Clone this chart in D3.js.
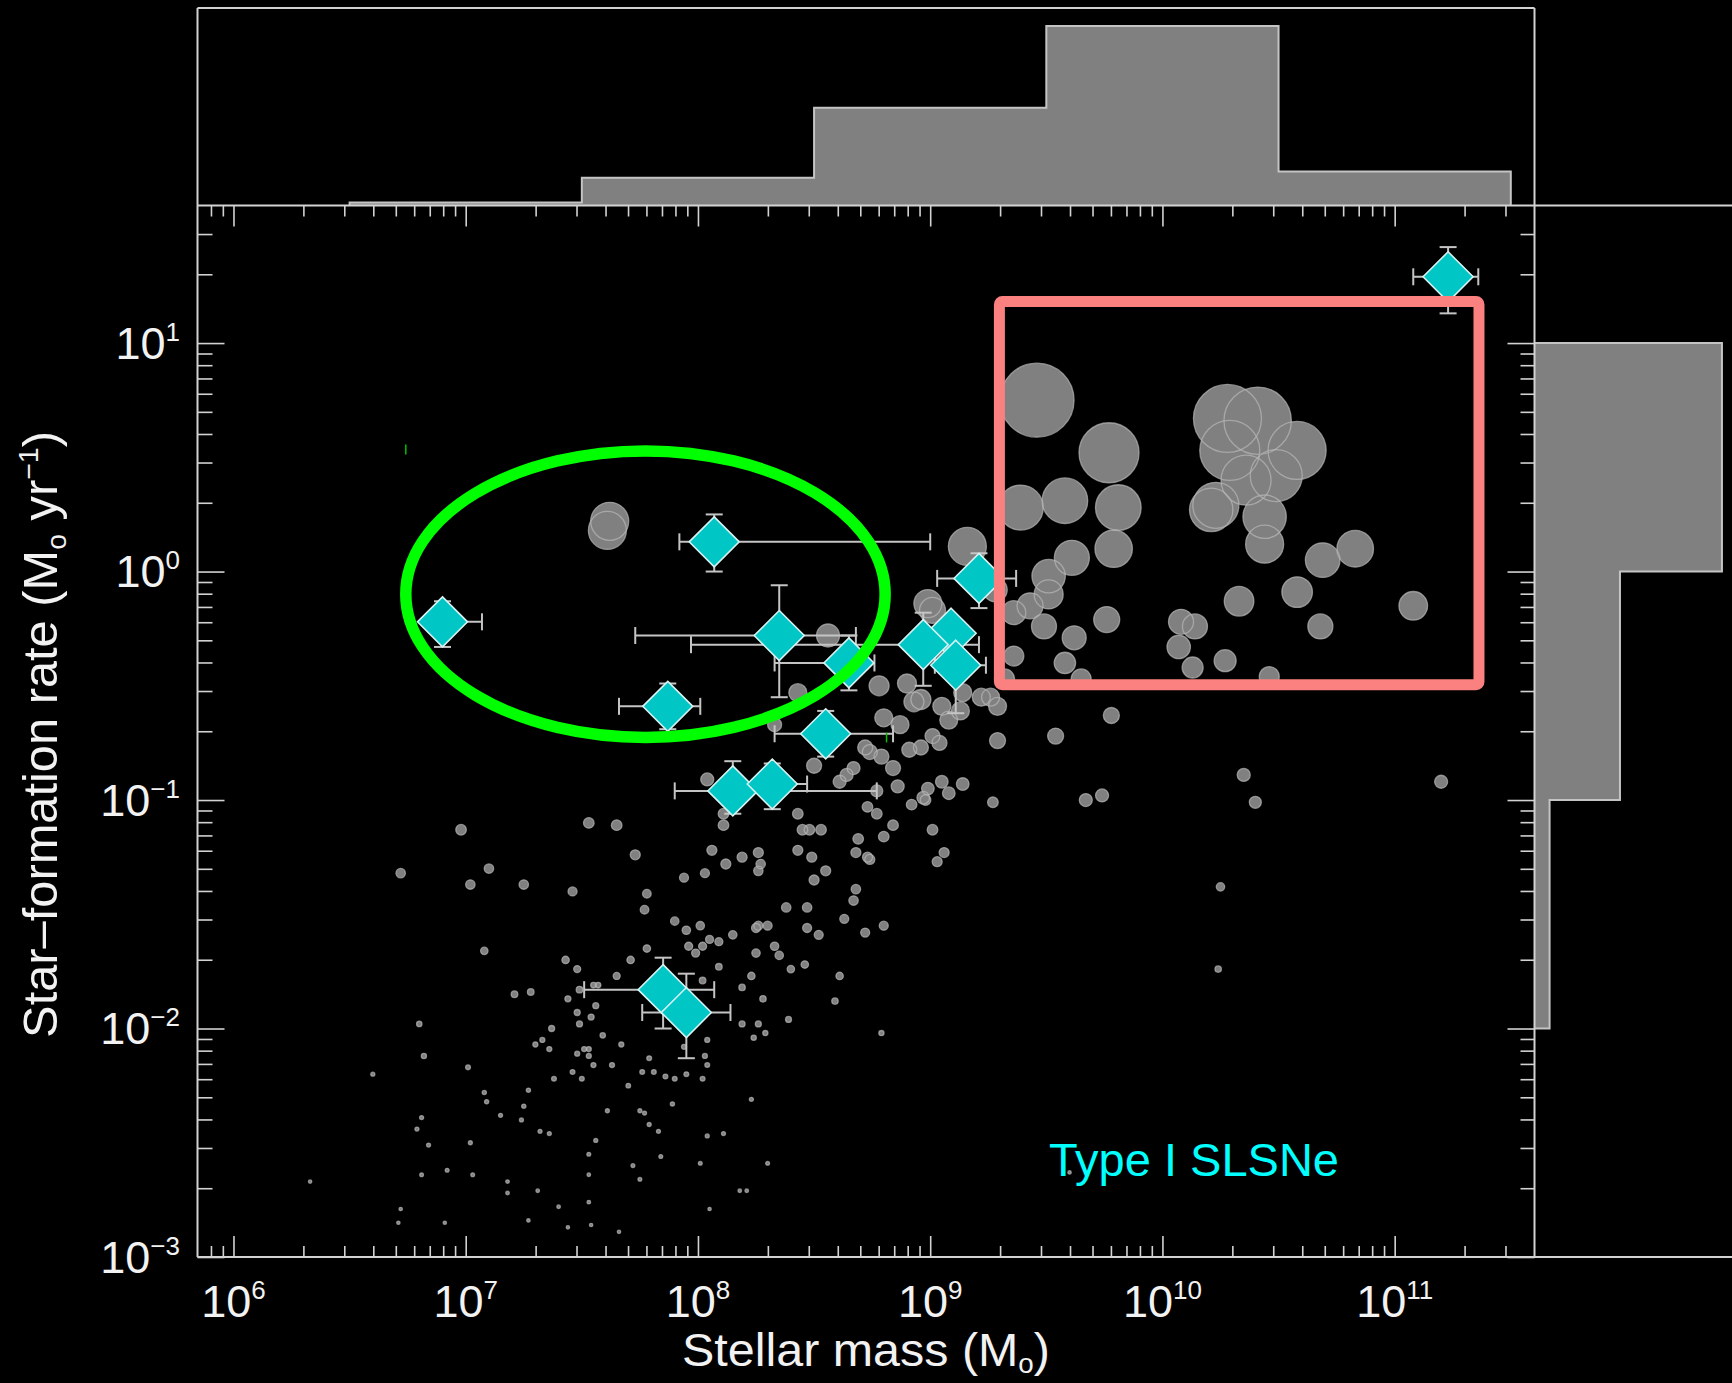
<!DOCTYPE html>
<html><head><meta charset="utf-8">
<script src="https://cdn.jsdelivr.net/npm/d3@7/dist/d3.min.js"></script>
<style>html,body{margin:0;padding:0;background:#000;}svg{display:block;}</style>
</head><body>
<svg id="chart" width="1732" height="1383"></svg>
<script>
// ---------------- DATA ----------------
const massTicks = [1e6, 1e7, 1e8, 1e9, 1e10, 1e11];
const massTickExp = ["6", "7", "8", "9", "10", "11"];
const sfrTicks = [1e-3, 1e-2, 1e-1, 1, 10];
const sfrTickExp = ["\u22123", "\u22122", "\u22121", "0", "1"];

// Top histogram: stellar mass (log10 bin edges) and relative heights
const massHistEdges = [6.5, 7.5, 8.5, 9.5, 10.5, 11.5];
const massHistValues = [0.017, 0.155, 0.545, 1.0, 0.19];
// Right histogram: SFR (log10 bin edges) and relative widths
const sfrHistEdges = [-2, -1, 0, 1];
const sfrHistValues = [0.084, 0.476, 1.044];

// Comparison galaxies: [log10 M*, log10 SFR, marker size]
const hostGalaxies = [
[6.98,-1.13,5.3],[7.53,-1.10,5.3],[7.65,-1.11,5.3],[7.73,-1.24,5],[8.06,-1.22,5],
[6.72,-1.32,4.7],[7.10,-1.30,4.7],[7.02,-1.37,4.7],[7.25,-1.37,4.7],[7.46,-1.40,4.5],
[7.94,-1.34,4.5],[8.03,-1.32,4.5],[7.78,-1.41,4.3],[7.77,-1.48,4.3],[7.90,-1.53,4.2],
[7.95,-1.57,4.2],[8.01,-1.55,4.2],[7.96,-1.64,4],[8.02,-1.64,4],[7.99,-1.67,4],
[8.05,-1.61,4],[8.09,-1.62,4],[7.08,-1.66,3.7],[7.78,-1.65,3.7],[7.71,-1.70,3.7],
[7.43,-1.70,3.7],[7.48,-1.74,3.5],[7.65,-1.77,3.5],[8.02,-1.79,3.3],[8.09,-1.73,3.3],
[7.21,-1.85,3.3],[7.28,-1.84,3.3],[7.49,-1.83,3.3],[7.55,-1.81,2.8],[7.57,-1.81,2.8],
[7.44,-1.87,3],[7.56,-1.90,3],[7.48,-1.93,3],[7.54,-1.95,3],[7.49,-1.98,3],
[7.37,-2.00,3],[7.59,-2.03,2.7],[6.80,-1.98,2.7],[6.82,-2.12,2.6],[7.30,-2.07,2.5],
[7.33,-2.05,2.5],[7.36,-2.09,2.5],[7.48,-2.11,2.5],[7.51,-2.09,2.5],[7.53,-2.09,2.5],
[7.53,-2.12,2.5],[7.55,-2.16,2.5],[7.63,-2.16,2.5],[7.67,-2.07,2.5],[7.01,-2.17,2.4],
[7.46,-2.19,2.4],[7.50,-2.22,2.4],[7.38,-2.22,2.4],[7.70,-2.25,2.3],[7.79,-2.13,2.4],
[7.94,-2.08,2.5],[8.04,-2.05,2.5],[8.03,-2.12,2.5],[8.04,-2.16,2.4],[7.76,-2.19,2.4],
[7.81,-2.19,2.4],[7.86,-2.21,2.4],[7.90,-2.22,2.4],[7.95,-2.20,2.4],[8.02,-2.22,2.4],
[7.08,-2.28,2.1],[7.09,-2.32,2.1],[7.27,-2.27,2.1],[7.25,-2.34,2.1],[7.15,-2.38,2],
[7.24,-2.40,2],[7.89,-2.33,2.1],[7.61,-2.36,2],[7.75,-2.36,2],[7.77,-2.37,2],
[7.79,-2.42,2],[7.83,-2.45,2],[8.04,-2.47,2],[6.81,-2.39,2],[6.79,-2.44,2],
[6.84,-2.51,2],[7.02,-2.50,2],[7.32,-2.45,2],[7.36,-2.46,2],[7.56,-2.49,2],
[7.53,-2.55,1.9],[7.84,-2.56,1.9],[8.01,-2.59,1.9],[7.72,-2.60,1.9],[7.75,-2.66,1.9],
[6.81,-2.64,1.9],[6.92,-2.62,1.9],[7.03,-2.64,1.9],[7.18,-2.67,1.8],[7.18,-2.72,1.8],
[7.31,-2.71,1.8],[7.53,-2.64,1.8],[7.40,-2.78,1.8],[7.53,-2.76,1.8],[6.72,-2.79,1.7],
[6.71,-2.85,1.7],[6.91,-2.85,1.7],[7.27,-2.84,1.7],[7.44,-2.87,1.7],[7.54,-2.86,1.7],
[7.66,-2.89,1.7],[8.05,-2.79,1.7],[6.33,-2.67,1.7],[6.60,-2.20,2],[8.04,-0.91,6.5],
[9.60,-2.63,1.7],
[8.43,-1.06,5.3],[8.11,-1.11,5.3],[8.11,-1.06,5.3],[8.45,-1.13,5.3],[8.48,-1.13,5.3],
[8.53,-1.13,5.3],[8.73,-1.03,5.3],[8.77,-1.06,5.3],[8.92,-1.02,5.3],[8.98,-1.00,5.3],
[9.27,-1.01,5.3],[8.84,-1.11,5.3],[9.01,-1.13,5.3],[8.69,-1.17,5.3],[8.80,-1.16,5.3],
[8.19,-1.25,5],[8.26,-1.23,5],[8.27,-1.28,4.7],[8.26,-1.31,4.7],[8.12,-1.28,5],
[8.43,-1.22,5],[8.49,-1.25,5],[8.68,-1.23,5],[8.73,-1.25,5],[8.74,-1.26,5],
[9.06,-1.23,5],[9.03,-1.27,5],[8.55,-1.31,5],[8.50,-1.35,5],[8.68,-1.39,4.7],
[8.67,-1.44,4.7],[8.38,-1.47,4.7],[8.47,-1.47,4.7],[8.63,-1.52,4.5],[8.80,-1.55,4.5],
[8.72,-1.58,4.5],[8.47,-1.56,4.5],[8.52,-1.59,4.5],[8.25,-1.56,4.5],[8.26,-1.55,4.5],
[8.30,-1.55,4.5],[8.15,-1.59,4.2],[8.33,-1.64,4.2],[8.35,-1.68,4.2],[8.25,-1.67,4.2],
[8.23,-1.77,3.7],[8.40,-1.74,3.7],[8.46,-1.72,3.7],[8.61,-1.77,3.7],[8.19,-1.82,3.2],
[8.28,-1.87,3.2],[8.59,-1.88,3.2],[8.39,-1.96,3],[8.19,-1.98,3],[8.26,-1.98,3],
[8.29,-2.02,2.6],[8.24,-2.04,2.6],[8.79,-2.02,2.6],[8.23,-2.31,2],[8.11,-2.46,2],
[8.30,-2.59,1.9],[8.18,-2.71,1.8],[8.21,-2.71,1.8],
[9.16,0.11,19],[8.99,-0.14,14],[9.01,-0.17,13],[8.56,-0.28,11.5],[8.43,-0.53,9],
[8.78,-0.50,10],[8.90,-0.49,9.5],[8.93,-0.57,10],[8.96,-0.56,10],[9.05,-0.59,9],
[9.08,-0.65,9],[9.13,-0.61,9],[9.14,-0.53,9],[9.22,-0.55,9],[9.26,-0.55,9],
[9.29,-0.59,9],[8.80,-0.64,9],[8.87,-0.67,9],[9.29,-0.74,8],[8.72,-0.77,7.5],
[8.74,-0.79,7.5],[8.79,-0.81,7.5],[8.84,-0.86,7.5],[8.91,-0.78,7.5],[8.96,-0.77,7.5],
[9.01,-0.72,7.5],[9.04,-0.75,7.5],[8.50,-0.85,7.5],[8.67,-0.86,6.5],[8.64,-0.89,6.5],
[8.61,-0.92,6.5],[8.86,-0.94,6.5],[8.99,-0.95,6.3],[8.97,-0.99,6.3],[9.05,-0.92,6.3],
[9.08,-0.97,6.3],[9.14,-0.93,6.3],[8.77,-0.96,6],[8.33,-0.67,7],
[9.46,0.75,37],[9.77,0.52,30],[9.39,0.28,22.5],[9.58,0.31,22.8],[9.81,0.28,22.8],
[9.61,0.06,17.5],[9.79,0.10,18.7],[9.51,-0.02,16.7],[9.51,-0.10,14.5],[9.43,-0.15,13],
[9.36,-0.18,12],[9.49,-0.24,12.5],[9.62,-0.29,12],[9.76,-0.21,13],[9.36,-0.37,10],
[9.58,-0.40,10.7],[9.65,-0.47,10],[9.32,-0.47,10],[10.28,0.67,34],[10.41,0.66,33.7],
[10.29,0.53,30],[10.58,0.53,29],[10.36,0.40,25],[10.49,0.42,26],[10.23,0.29,23],
[10.21,0.27,21.7],[10.44,0.24,21.7],[10.44,0.12,19],[10.69,0.05,17.3],[10.83,0.10,18.3],
[10.58,-0.09,15.3],[10.33,-0.13,14.8],[11.08,-0.15,14.3],[10.68,-0.24,12.5],[10.08,-0.22,12.5],
[10.14,-0.24,12.5],[10.07,-0.33,11.7],[10.13,-0.42,10.5],[10.27,-0.39,11],[10.46,-0.46,10],
[9.28,-0.08,12],
[9.54,-0.72,8],[9.78,-0.63,8],[9.67,-1.00,6.5],[9.74,-0.98,6.5],[10.35,-0.89,6.5],
[10.40,-1.01,6],[11.20,-0.92,6.5],[10.25,-1.38,4.2],[10.24,-1.74,3.2],
[7.62,0.22,19],[7.61,0.18,19]
];

// Type I SLSN hosts (log10 values) with error ranges
const slsnLogM     = [11.23, 6.90, 8.07, 9.21, 8.35, 7.87, 9.09, 8.97, 8.65, 9.11, 8.55, 8.15, 8.32, 7.85, 7.95];
const slsnLogMLo   = [11.08, 6.86, 7.92, 9.03, 7.73, 7.66, 9.02, 7.97, 8.33, 9.02, 8.33, 7.90, 8.26, 7.51, 7.76];
const slsnLogMHi   = [11.36, 7.07, 9.00, 9.37, 8.68, 8.01, 9.16, 9.21, 8.76, 9.24, 8.84, 8.77, 8.47, 8.07, 8.14];
const slsnLogSFR   = [1.29, -0.22, 0.13, -0.03, -0.28, -0.59, -0.27, -0.32, -0.40, -0.41, -0.71, -0.96, -0.93, -1.83, -1.93];
const slsnLogSFRLo = [1.13, -0.33, 0.00, -0.16, -0.55, -0.69, -0.34, -0.50, -0.52, -0.62, -0.81, -1.06, -1.04, -2.00, -2.13];
const slsnLogSFRHi = [1.42, -0.13, 0.25, 0.08, -0.06, -0.49, -0.20, -0.18, -0.28, -0.22, -0.61, -0.83, -0.84, -1.69, -1.76];

// Annotations in data coordinates (log10 units)
const ellipseCenter = [7.774, -0.099];
const ellipseHalfAxes = [1.032, 0.627];
const boxLogM = [9.298, 11.363];
const boxLogSFR = [-0.495, 1.182];
const greenMarks = [[6.742, 0.556, 0.512], [8.812, -0.705, -0.748]];

// ---------------- DRAW ----------------
const svg = d3.select("#chart");
const W = 1732, H = 1383;
svg.append("rect").attr("width", W).attr("height", H).attr("fill", "#000");

const L = 197.5, R = 1534.5, T = 205.5, B = 1257, HT = 8;
const x = d3.scaleLog().domain([7e5, 4e11]).range([L, R]);
const y = d3.scaleLog().domain([1e-3, 40]).range([B, T]);
const hTop = d3.scaleLinear().domain([0, 1.1]).range([T, HT]);
const hRight = d3.scaleLinear().domain([0, 1.1]).range([R, W]);
const rScale = d3.scaleLinear().domain([0, 40]).range([0, 40]);
const P = v => Math.pow(10, v);

const axisCol = "#d2d2d2";
const font = "'Liberation Sans', Arial, Helvetica, sans-serif";

// Histograms (single step outline, filled)
const gH = svg.append("g");
let pts = [];
massHistValues.forEach((v, i) => { pts.push([x(P(massHistEdges[i])), hTop(v)]); pts.push([x(P(massHistEdges[i+1])), hTop(v)]); });
const topPath = [[x(P(massHistEdges[0])), hTop(0)], ...pts, [x(P(massHistEdges[massHistEdges.length-1])), hTop(0)]];
gH.append("path").attr("d", d3.line()(topPath) + "Z").attr("fill", "#808080").attr("stroke", "none");
gH.append("path").attr("d", d3.line()(topPath)).attr("fill", "none").attr("stroke", "#c4c4c4").attr("stroke-width", 2);

pts = [];
sfrHistValues.forEach((v, i) => { pts.push([hRight(v), y(P(sfrHistEdges[i]))]); pts.push([hRight(v), y(P(sfrHistEdges[i+1]))]); });
const rightPath = [[hRight(0), y(P(sfrHistEdges[0]))], ...pts, [hRight(0), y(P(sfrHistEdges[sfrHistEdges.length-1]))]];
gH.append("path").attr("d", d3.line()(rightPath) + "Z").attr("fill", "#808080").attr("stroke", "none");
gH.append("path").attr("d", d3.line()(rightPath)).attr("fill", "none").attr("stroke", "#c4c4c4").attr("stroke-width", 2);

// Ticks via d3 axes
const minorX = [], minorY = [];
for (let e = 5; e <= 11; e++) for (let m = 2; m <= 9; m++) { const v = m * Math.pow(10, e); if (v > 7e5 && v < 4e11) minorX.push(v); }
for (let e = -3; e <= 1; e++) for (let m = 2; m <= 9; m++) { const v = m * Math.pow(10, e); if (v > 1e-3 && v < 40) minorY.push(v); }

function styleAxis(g) { g.select(".domain").remove(); g.selectAll("line").attr("stroke", axisCol).attr("stroke-width", 1.6); g.selectAll("text").remove(); }
svg.append("g").attr("transform", `translate(0,${B})`).call(d3.axisBottom(x).tickValues(massTicks).tickSize(-21).tickFormat("")).call(styleAxis);
svg.append("g").attr("transform", `translate(0,${B})`).call(d3.axisBottom(x).tickValues(minorX).tickSize(-11).tickFormat("")).call(styleAxis);
svg.append("g").attr("transform", `translate(0,${T})`).call(d3.axisTop(x).tickValues(massTicks).tickSize(-21).tickFormat("")).call(styleAxis);
svg.append("g").attr("transform", `translate(0,${T})`).call(d3.axisTop(x).tickValues(minorX).tickSize(-11).tickFormat("")).call(styleAxis);
svg.append("g").attr("transform", `translate(${L},0)`).call(d3.axisLeft(y).tickValues(sfrTicks).tickSize(-27).tickFormat("")).call(styleAxis);
svg.append("g").attr("transform", `translate(${L},0)`).call(d3.axisLeft(y).tickValues(minorY).tickSize(-15).tickFormat("")).call(styleAxis);
svg.append("g").attr("transform", `translate(${R},0)`).call(d3.axisRight(y).tickValues(sfrTicks).tickSize(-27).tickFormat("")).call(styleAxis);
svg.append("g").attr("transform", `translate(${R},0)`).call(d3.axisRight(y).tickValues(minorY).tickSize(-14).tickFormat("")).call(styleAxis);

// Frame lines
const fr = svg.append("g").attr("stroke", axisCol).attr("stroke-width", 2);
fr.append("line").attr("x1", L).attr("x2", R).attr("y1", HT).attr("y2", HT);
fr.append("line").attr("x1", L).attr("x2", L).attr("y1", HT).attr("y2", B);
fr.append("line").attr("x1", R).attr("x2", R).attr("y1", HT).attr("y2", B);
fr.append("line").attr("x1", L).attr("x2", W).attr("y1", T).attr("y2", T);
fr.append("line").attr("x1", L).attr("x2", W).attr("y1", B).attr("y2", B);

// Grey comparison galaxies: fills first, then outlines
const gG = svg.append("g");
gG.selectAll("circle.f").data(hostGalaxies).join("circle").attr("class", "f")
  .attr("cx", d => x(P(d[0]))).attr("cy", d => y(P(d[1]))).attr("r", d => rScale(d[2]))
  .attr("fill", "#808080");
gG.selectAll("circle.o").data(hostGalaxies).join("circle").attr("class", "o")
  .attr("cx", d => x(P(d[0]))).attr("cy", d => y(P(d[1]))).attr("r", d => rScale(d[2]))
  .attr("fill", "none").attr("stroke", "#b8b8b8").attr("stroke-opacity", 0.7).attr("stroke-width", 1.3);

// Error bars
const eb = svg.append("g").attr("stroke", "#c4c4c4").attr("stroke-width", 2);
const cap = 8.5;
slsnLogM.forEach((m, i) => {
  const cx = x(P(m)), cy = y(P(slsnLogSFR[i]));
  const x0 = x(P(slsnLogMLo[i])), x1 = x(P(slsnLogMHi[i]));
  const y0 = y(P(slsnLogSFRLo[i])), y1 = y(P(slsnLogSFRHi[i]));
  eb.append("line").attr("x1", x0).attr("x2", x1).attr("y1", cy).attr("y2", cy);
  eb.append("line").attr("x1", x0).attr("x2", x0).attr("y1", cy - cap).attr("y2", cy + cap);
  eb.append("line").attr("x1", x1).attr("x2", x1).attr("y1", cy - cap).attr("y2", cy + cap);
  eb.append("line").attr("x1", cx).attr("x2", cx).attr("y1", y0).attr("y2", y1);
  eb.append("line").attr("x1", cx - cap).attr("x2", cx + cap).attr("y1", y0).attr("y2", y0);
  eb.append("line").attr("x1", cx - cap).attr("x2", cx + cap).attr("y1", y1).attr("y2", y1);
});

// Diamonds
const ds = 25;
svg.append("g").selectAll("path").data(slsnLogM).join("path")
  .attr("d", (m, i) => { const cx = x(P(m)), cy = y(P(slsnLogSFR[i]));
    return `M${cx},${cy-ds}L${cx+ds},${cy}L${cx},${cy+ds}L${cx-ds},${cy}Z`; })
  .attr("fill", "#00c6c6").attr("stroke", "#d6f2f2").attr("stroke-width", 1.6).attr("stroke-linejoin", "miter");

// Annotations
const ecx = x(P(ellipseCenter[0])), ecy = y(P(ellipseCenter[1]));
svg.append("ellipse").attr("cx", ecx).attr("cy", ecy)
  .attr("rx", x(P(ellipseCenter[0] + ellipseHalfAxes[0])) - ecx)
  .attr("ry", ecy - y(P(ellipseCenter[1] + ellipseHalfAxes[1])))
  .attr("fill", "none").attr("stroke", "#00ff00").attr("stroke-width", 11.5);
svg.append("rect").attr("x", x(P(boxLogM[0]))).attr("y", y(P(boxLogSFR[1])))
  .attr("width", x(P(boxLogM[1])) - x(P(boxLogM[0]))).attr("height", y(P(boxLogSFR[0])) - y(P(boxLogSFR[1])))
  .attr("rx", 3).attr("fill", "none").attr("stroke", "#fb8080").attr("stroke-width", 11);
greenMarks.forEach(g => {
  svg.append("line").attr("x1", x(P(g[0]))).attr("x2", x(P(g[0]))).attr("y1", y(P(g[1]))).attr("y2", y(P(g[2])))
    .attr("stroke", "#00c000").attr("stroke-width", 1.5);
});

// Tick labels
const txt = svg.append("g").attr("fill", "#f2f2f2").attr("font-family", font);
massTicks.forEach((v, i) => {
  const t = txt.append("text").attr("x", x(v)).attr("y", 1317).attr("text-anchor", "middle").attr("font-size", 45);
  t.append("tspan").text("10");
  t.append("tspan").attr("dy", -18).attr("font-size", 26).text(massTickExp[i]);
});
sfrTicks.forEach((v, i) => {
  const t = txt.append("text").attr("x", 180).attr("y", y(v) + 15.5).attr("text-anchor", "end").attr("font-size", 45);
  t.append("tspan").text("10");
  t.append("tspan").attr("dy", -18).attr("font-size", 26).text(sfrTickExp[i]);
});

// Axis titles
function fitWidth(sel, target, cx) {
  const w = sel.node().getBBox().width;
  const s = target / w;
  sel.attr("transform", `translate(${cx},0) scale(${s},1) translate(${-cx},0)`);
}
const xt = txt.append("text").attr("x", 866).attr("y", 1366).attr("text-anchor", "middle").attr("font-size", 47);
xt.append("tspan").text("Stellar mass (M");
xt.append("tspan").attr("dy", 7).attr("font-size", 27).text("o");
xt.append("tspan").attr("dy", -7).text(")");
fitWidth(xt, 368, 866);

const yg = txt.append("g").attr("transform", "translate(57,734.5) rotate(-90)");
const yt = yg.append("text").attr("x", 0).attr("y", 0).attr("text-anchor", "middle").attr("font-size", 48);
yt.append("tspan").text("Star\u2013formation rate (M");
yt.append("tspan").attr("dy", 9).attr("font-size", 28).text("o");
yt.append("tspan").attr("dy", -9).text(" yr");
yt.append("tspan").attr("dy", -19).attr("font-size", 28).text("\u22121");
yt.append("tspan").attr("dy", 19).text(")");
fitWidth(yt, 607, 0);

// Legend label
svg.append("text").attr("x", 1049).attr("y", 1176).attr("font-family", font).attr("font-size", 47)
  .attr("fill", "#00ffff").text("Type I SLSNe");
</script>
</body></html>
